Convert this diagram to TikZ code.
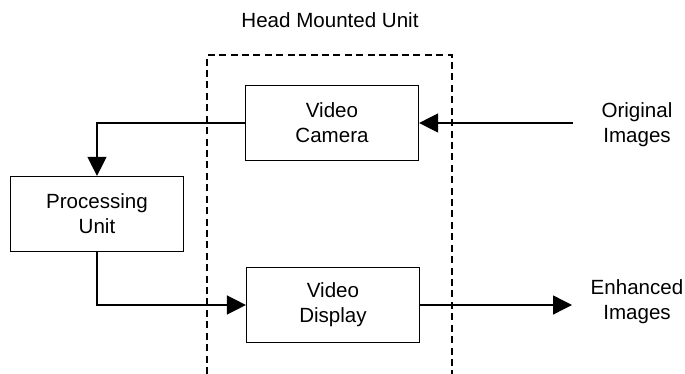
\documentclass[tikz,border=0pt]{standalone}
\usepackage{fontspec}
\setmainfont{Liberation Sans}
\usetikzlibrary{arrows.meta}
\tikzset{
  unit/.style={draw,line width=0.7pt,minimum width=3.46cm,minimum height=1.5cm,align=center,inner sep=0pt},
  lbl/.style={align=center,inner sep=0pt},
  flow/.style={line width=0.8pt,-{Triangle[length=0.38cm,width=0.38cm]}}
}
\begin{document}
\begin{tikzpicture}[x=0.02cm,y=-0.02cm,font=\fontsize{11.7}{14.2}\selectfont]
\useasboundingbox (0,0) rectangle (685,374);
%\draw[step=50,gray,very thin] (0,0) grid (685,374); %background grid
\draw[line width=0.9pt,dash pattern=on 4pt off 2.5pt] (207,374) -- (207,55) -- (452,55) -- (452,374); %head unit
\node[lbl] (hmu) at (330,20) {Head Mounted Unit};
\node[unit] (cam) at (332,123) {Video\\Camera};
\node[unit] (disp) at (333,305) {Video\\Display};
\node[unit] (proc) at (97,214) {Processing\\Unit};
\node[lbl] (orig) at (637,125) {Original\\Images};
\node[lbl] (enh) at (637,302) {Enhanced\\Images};
\coordinate (inpt) at (573,123);
\coordinate (outpt) at (572,305);
\draw[flow] (inpt) -- (cam.east);
\draw[flow] (cam.west) -| (proc.north);
\draw[flow] (proc.south) |- (disp.west);
\draw[flow] (disp.east) -- (outpt);
\end{tikzpicture}
\end{document}
